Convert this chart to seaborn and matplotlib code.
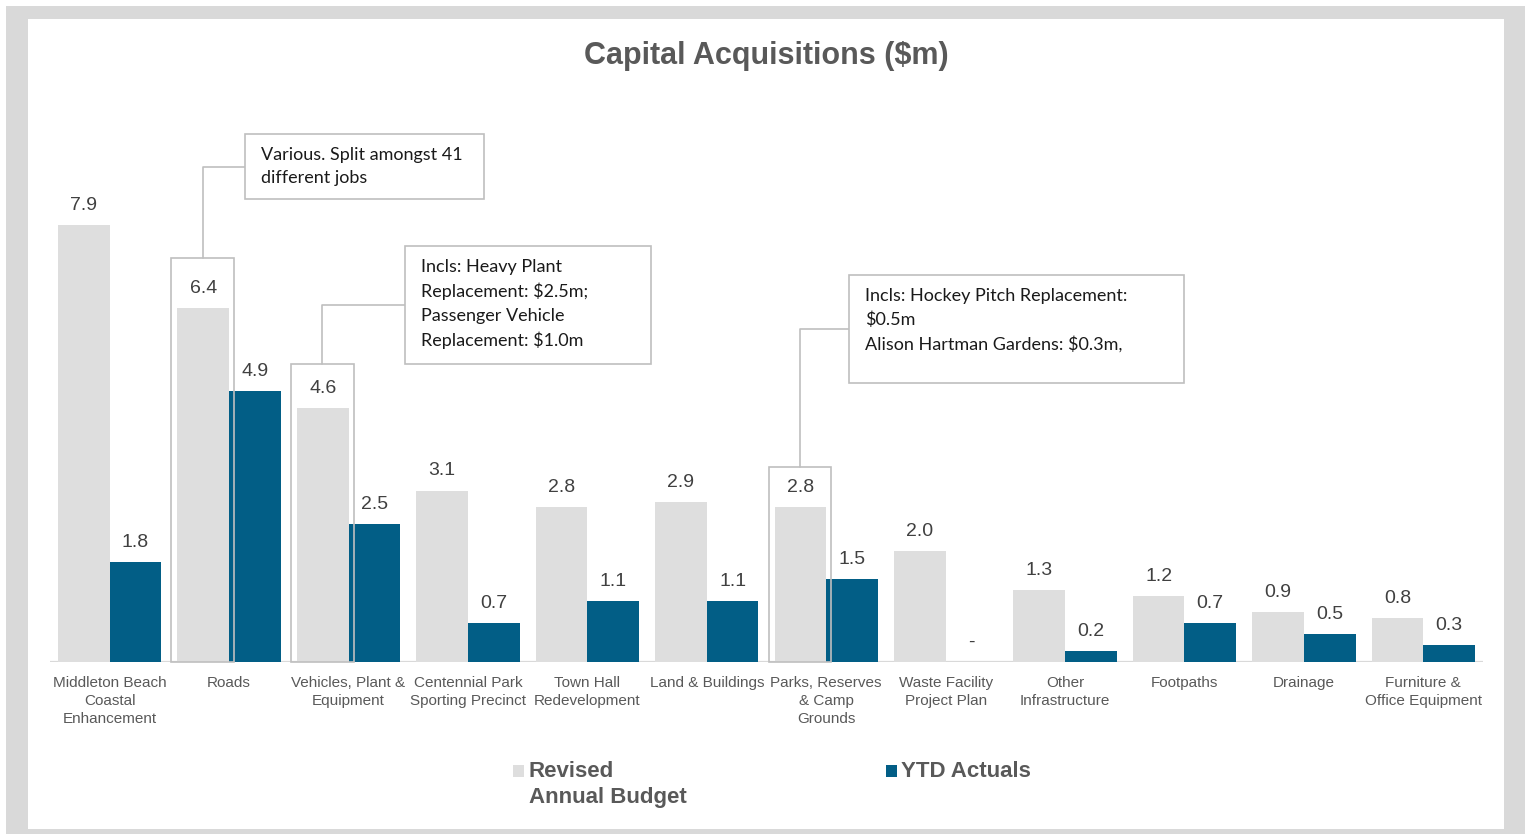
import numpy as np
import pandas as pd
import seaborn as sns
import matplotlib.pyplot as plt
from matplotlib.patches import Rectangle
from matplotlib.lines import Line2D

# Chart data
categories = [
    "Middleton Beach\nCoastal\nEnhancement",
    "Roads",
    "Vehicles, Plant &\nEquipment",
    "Centennial Park\nSporting Precinct",
    "Town Hall\nRedevelopment",
    "Land & Buildings",
    "Parks, Reserves\n& Camp\nGrounds",
    "Waste Facility\nProject Plan",
    "Other\nInfrastructure",
    "Footpaths",
    "Drainage",
    "Furniture &\nOffice Equipment",
]
revised_budget = [7.9, 6.4, 4.6, 3.1, 2.8, 2.9, 2.8, 2.0, 1.3, 1.2, 0.9, 0.8]
ytd_actuals = [1.8, 4.9, 2.5, 0.7, 1.1, 1.1, 1.5, 0.0, 0.2, 0.7, 0.5, 0.3]
series_names = ["Revised Annual Budget", "YTD Actuals"]
legend_labels = ["Revised\nAnnual Budget", "YTD Actuals"]

# callout notes: which category they point at and what they say
callout_categories = [1, 2, 6]
callout_texts = [
    "Various. Split amongst 41\ndifferent jobs",
    "Incls: Heavy Plant\nReplacement: $2.5m;\nPassenger Vehicle\nReplacement: $1.0m",
    "Incls: Hockey Pitch Replacement:\n$0.5m\nAlison Hartman Gardens: $0.3m,",
]
# box geometry in pixels (left, top, right, bottom) and how far the
# highlight frame reaches above each bar
callout_boxes = [(245, 134, 484, 199), (405, 246, 651, 364), (849, 275, 1184, 383)]
callout_frame_pad = [50, 44, 40]

GREY_BAR = "#dedede"
BLUE = "#025e86"
TEXT = "#595959"
LABEL = "#404040"
FRAME = "#bfbfbf"

W, H = 1525, 834


def fxy(px, py):
    """pixel position (origin top-left) -> figure fraction"""
    return px / W, 1 - py / H


df = pd.DataFrame({
    "category": categories * 2,
    "series": [series_names[0]] * len(categories) + [series_names[1]] * len(categories),
    "value": revised_budget + ytd_actuals,
})

sns.set_theme(style="white")
plt.rcParams["font.family"] = ["Liberation Sans", "DejaVu Sans"]

fig = plt.figure(figsize=(W / 100, H / 100), dpi=100)
fig.patch.set_facecolor("white")

# outer grey frame with white panel inside
fig.add_artist(Rectangle(fxy(6, 834), (W - 6) / W, (834 - 6) / H,
                         transform=fig.transFigure, facecolor="#d9d9d9",
                         edgecolor="none", zorder=-2))
fig.add_artist(Rectangle(fxy(28, 829), (1504 - 28) / W, (829 - 19) / H,
                         transform=fig.transFigure, facecolor="white",
                         edgecolor="none", zorder=-1))

ax_left, ax_right, ax_top, ax_bottom = 50, 1483, 120, 662
ax = fig.add_axes([ax_left / W, 1 - ax_bottom / H,
                   (ax_right - ax_left) / W, (ax_bottom - ax_top) / H])
ax.patch.set_alpha(0)

sns.barplot(
    data=df, x="category", y="value", hue="series", order=categories,
    hue_order=series_names, palette=[GREY_BAR, BLUE], saturation=1,
    width=0.865, linewidth=0, legend=False, ax=ax,
)

ax.set_xlim(-0.5, len(categories) - 0.5)
ax.set_ylim(0, (ax_bottom - ax_top) / 55.3)
ax.set_xlabel("")
ax.set_ylabel("")
ax.set_yticks([])
ax.tick_params(axis="x", length=0, pad=10, labelsize=11, labelcolor=TEXT)
for t in ax.get_xticklabels():
    t.set_linespacing(1.35)
for s in ax.spines.values():
    s.set_visible(False)
ax.axhline(0, color="#d9d9d9", lw=1.6, zorder=0)

for cont, vals in zip(ax.containers, [revised_budget, ytd_actuals]):
    labels = ["-" if v == 0 else f"{v:.1f}" for v in vals]
    ax.bar_label(cont, labels=labels, padding=8, fontsize=14, color=LABEL)

# title
fig.text(*fxy(766, 56), "Capital Acquisitions ($m)", ha="center", va="center",
         fontsize=22, weight="bold", color=TEXT, parse_math=False)


def data_px(x, y):
    d = ax.transData.transform((x, y))
    return d[0], H - d[1]


# callouts: frame around the budget bar, elbow leader, note box
for idx, note, box, pad in zip(callout_categories, callout_texts, callout_boxes, callout_frame_pad):
    bar = ax.containers[0][idx]
    left, base = data_px(bar.get_x(), 0)
    right, _ = data_px(bar.get_x() + bar.get_width(), 0)
    _, top = data_px(0, bar.get_height())
    left -= 6
    right += 5
    top -= pad
    fig.add_artist(Rectangle(fxy(left, base), (right - left) / W, (base - top) / H,
                             transform=fig.transFigure, fill=False,
                             edgecolor=FRAME, lw=1.2, zorder=5))
    bl, bt, br, bb = box
    mid_y = (bt + bb) / 2
    cx = (left + right) / 2
    xs, ys = zip(fxy(cx, top), fxy(cx, mid_y), fxy(bl, mid_y))
    fig.add_artist(Line2D(xs, ys, transform=fig.transFigure, color=FRAME, lw=1.2, zorder=5))
    fig.add_artist(Rectangle(fxy(bl, bb), (br - bl) / W, (bb - bt) / H,
                             transform=fig.transFigure, facecolor="white",
                             edgecolor=FRAME, lw=1.2, zorder=6))
    fig.text(*fxy(bl + 16, bt + 13), note, ha="left", va="top", fontsize=13,
             family=["Lato", "DejaVu Sans"], color="#1a1a1a", linespacing=1.55,
             parse_math=False, zorder=7)

# legend
for (sx, tx), lab, col in zip([(513, 529), (886, 901)], legend_labels, [GREY_BAR, BLUE]):
    fig.add_artist(Rectangle(fxy(sx, 777), 11 / W, 12 / H, transform=fig.transFigure,
                             facecolor=col, edgecolor="none"))
    fig.text(*fxy(tx, 761), lab, ha="left", va="top", fontsize=16, weight="bold",
             color=TEXT, linespacing=1.3)

fig.savefig("out.png", dpi=100)
